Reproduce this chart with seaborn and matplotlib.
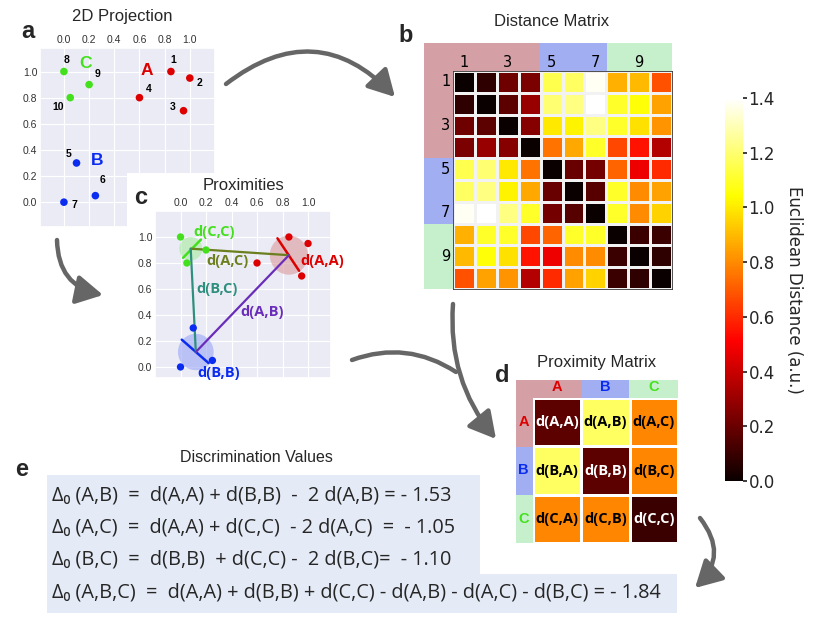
import numpy as np
import pandas as pd
import matplotlib
matplotlib.use("Agg")
import matplotlib.pyplot as plt
import seaborn as sns
from matplotlib.patches import Rectangle, FancyArrowPatch, Circle

# ---------------- data ----------------
point_ids = ["1", "2", "3", "4", "5", "6", "7", "8", "9", "10"]
point_x = [0.85, 1.00, 0.95, 0.60, 0.10, 0.25, 0.00, 0.00, 0.20, 0.05]
point_y = [1.00, 0.95, 0.70, 0.80, 0.30, 0.05, 0.00, 1.00, 0.90, 0.80]
point_cluster = ["A", "A", "A", "A", "B", "B", "B", "C", "C", "C"]

clusters = ["A", "B", "C"]
centroid_x = [0.85, 0.12, 0.08]
centroid_y = [0.86, 0.115, 0.91]
spread_radius = [0.15, 0.14, 0.09]
# diameter segments of each cluster (x0, y0, x1, y1)
spread_seg_x0 = [0.76, 0.01, 0.02]
spread_seg_y0 = [0.99, 0.21, 0.84]
spread_seg_x1 = [0.93, 0.22, 0.16]
spread_seg_y1 = [0.74, 0.03, 0.98]

dist_matrix = [
    [0.00, 0.08, 0.21, 0.24, 1.15, 1.18, 1.38, 0.88, 0.90, 0.68],
    [0.08, 0.00, 0.17, 0.30, 1.20, 1.22, 1.42, 1.10, 1.05, 0.85],
    [0.21, 0.17, 0.00, 0.26, 1.00, 1.02, 1.22, 1.10, 0.98, 0.82],
    [0.24, 0.30, 0.26, 0.00, 0.75, 0.86, 1.10, 0.66, 0.55, 0.35],
    [1.15, 1.20, 1.00, 0.75, 0.00, 0.20, 0.22, 0.72, 0.48, 0.60],
    [1.18, 1.22, 1.02, 0.86, 0.20, 0.00, 0.16, 1.10, 0.80, 0.85],
    [1.38, 1.42, 1.22, 1.10, 0.22, 0.16, 0.00, 1.10, 0.80, 0.95],
    [0.88, 1.10, 1.10, 0.66, 0.72, 1.10, 1.10, 0.00, 0.10, 0.10],
    [0.90, 1.05, 0.98, 0.55, 0.48, 0.80, 0.80, 0.10, 0.00, 0.08],
    [0.68, 0.85, 0.82, 0.35, 0.60, 0.85, 0.95, 0.10, 0.08, 0.00],
]
dist_tick_labels = ["1", "3", "5", "7", "9"]

prox_matrix = [
    [0.17, 1.18, 0.79],
    [1.18, 0.17, 0.79],
    [0.79, 0.79, 0.10],
]
prox_labels = [["d(A,A)", "d(A,B)", "d(A,C)"],
               ["d(B,A)", "d(B,B)", "d(B,C)"],
               ["d(C,A)", "d(C,B)", "d(C,C)"]]

cbar_ticks = [0.0, 0.2, 0.4, 0.6, 0.8, 1.0, 1.2, 1.4]

equations = [
    "Δ₀ (A,B)  =  d(A,A) + d(B,B)  -  2 d(A,B) = - 1.53",
    "Δ₀ (A,C)  =  d(A,A) + d(C,C)  - 2 d(A,C)  =  - 1.05",
    "Δ₀ (B,C)  =  d(B,B)  + d(C,C) -  2 d(B,C)=  - 1.10",
    "Δ₀ (A,B,C)  =  d(A,A) + d(B,B) + d(C,C) - d(A,B) - d(A,C) - d(B,C) = - 1.84",
]

# ---------------- style ----------------
sns.set_theme(style="darkgrid", rc={"axes.facecolor": "#EBEBF6",
                                     "grid.color": "white", "grid.linewidth": 0.8})
plt.rcParams["font.family"] = ["Liberation Sans", "DejaVu Sans"]

W, H = 830, 628
fig = plt.figure(figsize=(W / 100, H / 100), dpi=100)
fig.patch.set_facecolor("white")


def rect(x0, y0, x1, y1):
    return [x0 / W, 1 - y1 / H, (x1 - x0) / W, (y1 - y0) / H]


def ftext(x, y, s, **kw):
    fig.text(x / W, 1 - y / H, s, **kw)


def fbox(x0, y0, x1, y1, color):
    fig.add_artist(Rectangle((x0 / W, 1 - y1 / H), (x1 - x0) / W, (y1 - y0) / H,
                             transform=fig.transFigure, facecolor=color,
                             edgecolor="none", zorder=-1))


cluster_colors = {"A": "#DD0000", "B": "#0A2BF0", "C": "#44E01E"}
df = pd.DataFrame({"x": point_x, "y": point_y, "cluster": point_cluster, "id": point_ids})

label_off = {"1": (0.02, 0.09), "2": (0.08, -0.04), "3": (-0.09, 0.03), "4": (0.07, 0.07),
             "5": (-0.06, 0.07), "6": (0.06, 0.12), "7": (0.08, -0.02), "8": (0.02, 0.09),
             "9": (0.07, 0.08), "10": (-0.1, -0.07)}
cl_label_pos = {"A": (0.66, 1.01), "B": (0.26, 0.32), "C": (0.17, 1.06)}


def style_proj(ax, xlim, ylim):
    ax.set_xlim(*xlim)
    ax.set_ylim(*ylim)
    ax.set_xticks([0, 0.2, 0.4, 0.6, 0.8, 1.0])
    ax.set_yticks([0, 0.2, 0.4, 0.6, 0.8, 1.0])
    ax.xaxis.tick_top()
    ax.tick_params(labelsize=7.5, colors="#333333", pad=2, length=0)
    ax.set_xlabel("")
    ax.set_ylabel("")


# ---------------- panel a ----------------
axa = fig.add_axes(rect(40, 48, 215, 227))
sns.scatterplot(data=df, x="x", y="y", hue="cluster", palette=cluster_colors,
                legend=False, s=30, linewidth=0, ax=axa)
style_proj(axa, (-0.19, 1.2), (-0.19, 1.18))
for pid, px_, py_ in zip(point_ids, point_x, point_y):
    dx, dy = label_off[pid]
    axa.text(px_ + dx, py_ + dy, pid, fontsize=7.5, fontweight="bold",
             ha="center", va="center", color="black")
for c in clusters:
    axa.text(*cl_label_pos[c], c, fontsize=12.5, fontweight="bold", color=cluster_colors[c],
             ha="center", va="center")
ftext(122, 17, "2D Projection", fontsize=12, ha="center", va="center")
ftext(28, 32, "a", fontsize=17, fontweight="bold", ha="center", va="center")

# ---------------- panel c ----------------
bgc = fig.add_axes(rect(127, 173, 345, 385))
bgc.set_facecolor("white")
bgc.grid(False)
bgc.set_xticks([])
bgc.set_yticks([])
for s in bgc.spines.values():
    s.set_visible(False)

axc = fig.add_axes(rect(155, 211, 331, 378))
sns.scatterplot(data=df, x="x", y="y", hue="cluster", palette=cluster_colors,
                legend=False, s=28, linewidth=0, ax=axc, zorder=4)
style_proj(axc, (-0.2, 1.18), (-0.085, 1.2))
circle_colors = {"A": "#D99A9A", "B": "#9AA6F5", "C": "#A8EBA0"}
for i, c in enumerate(clusters):
    axc.add_patch(Circle((centroid_x[i], centroid_y[i]), spread_radius[i],
                         facecolor=circle_colors[c], alpha=0.6, edgecolor="none", zorder=2))
    axc.plot([spread_seg_x0[i], spread_seg_x1[i]], [spread_seg_y0[i], spread_seg_y1[i]],
             color=cluster_colors[c], lw=1.8, zorder=3)
pair_colors = {("A", "C"): "#6B7F1E", ("B", "C"): "#2F8F7E", ("A", "B"): "#6A2DBA"}
for (p, q), col in pair_colors.items():
    i, j = clusters.index(p), clusters.index(q)
    axc.plot([centroid_x[i], centroid_x[j]], [centroid_y[i], centroid_y[j]],
             color=col, lw=1.6, zorder=3)
dlab = [("d(C,C)", 0.26, 1.035, cluster_colors["C"]),
        ("d(A,C)", 0.37, 0.815, pair_colors[("A", "C")]),
        ("d(A,A)", 1.11, 0.815, cluster_colors["A"]),
        ("d(B,C)", 0.29, 0.60, pair_colors[("B", "C")]),
        ("d(A,B)", 0.64, 0.42, pair_colors[("A", "B")]),
        ("d(B,B)", 0.30, -0.05, cluster_colors["B"])]
for s, x, y, col in dlab:
    axc.text(x, y, s, color=col, fontsize=10.5, fontweight="bold", ha="center", va="center",
             family=["Open Sans", "DejaVu Sans"], zorder=5, clip_on=False)
ftext(243, 185, "Proximities", fontsize=12, ha="center", va="center")
ftext(141, 198, "c", fontsize=17, fontweight="bold", ha="center", va="center")

# ---------------- panel b ----------------
pink, blue, green = "#D4A0A5", "#A2AEF2", "#C6EFCB"
fbox(424, 43, 540, 71, pink)
fbox(424, 71, 453, 158, pink)
fbox(540, 43, 607, 71, blue)
fbox(424, 158, 453, 224, blue)
fbox(607, 43, 672, 71, green)
fbox(424, 224, 453, 289, green)

axb = fig.add_axes(rect(453, 71, 672, 289))
cax = fig.add_axes(rect(725, 98, 743, 481))
sns.heatmap(np.array(dist_matrix), cmap="hot", vmin=0, vmax=1.4, ax=axb, cbar_ax=cax,
            linewidths=1, linecolor="#F2F2F2")
axb.set_xticks([0.5, 2.5, 4.5, 6.5, 8.5])
axb.set_xticklabels(dist_tick_labels, family="DejaVu Sans")
axb.set_yticks([0.5, 2.5, 4.5, 6.5, 8.5])
axb.set_yticklabels(dist_tick_labels, rotation=0, family="DejaVu Sans")
axb.xaxis.tick_top()
axb.tick_params(axis="y", labelsize=10.5, length=2, pad=0, colors="black")
axb.tick_params(axis="x", labelsize=10.5, length=0, pad=0.5, colors="black")
for s in axb.spines.values():
    s.set_visible(True)
    s.set_color("#333333")
    s.set_linewidth(0.6)
ftext(552, 22, "Distance Matrix", fontsize=12, ha="center", va="center")
ftext(406, 36, "b", fontsize=17, fontweight="bold", ha="center", va="center")

cax.set_yticks(cbar_ticks)
cax.set_yticklabels([f"{t:.1f}" for t in cbar_ticks], family="DejaVu Sans")
cax.tick_params(labelsize=12, length=3, pad=1)
cax.set_ylabel("Euclidean Distance (a.u.)", rotation=270, fontsize=12, labelpad=20,
               family="DejaVu Sans")

# ---------------- panel d ----------------
fbox(516, 380, 582, 398, pink)
fbox(516, 398, 533, 447, pink)
fbox(582, 380, 629, 398, blue)
fbox(516, 447, 533, 495, blue)
fbox(629, 380, 678, 398, green)
fbox(516, 495, 533, 543, green)
axd = fig.add_axes(rect(533, 398, 678, 543))
sns.heatmap(np.array(prox_matrix), cmap="hot", vmin=0, vmax=1.4, ax=axd, cbar=False,
            annot=np.array(prox_labels), fmt="", linewidths=2, linecolor="white",
            annot_kws=dict(fontsize=10.5, fontweight="bold", family=["Open Sans", "DejaVu Sans"]))
flat_vals = np.array(prox_matrix).ravel()
for t, v in zip(axd.texts, flat_vals):
    t.set_color("white" if v < 0.5 else "black")
axd.set_xticks([0.5, 1.5, 2.5])
axd.set_xticklabels(clusters)
axd.set_yticks([0.5, 1.5, 2.5])
axd.set_yticklabels(clusters, rotation=0)
axd.xaxis.tick_top()
axd.tick_params(labelsize=10.5, length=0, pad=3)
for lab, c in zip(axd.get_xticklabels(), clusters):
    lab.set_color(cluster_colors[c]); lab.set_fontweight("bold")
for lab, c in zip(axd.get_yticklabels(), clusters):
    lab.set_color(cluster_colors[c]); lab.set_fontweight("bold")
ftext(597, 362, "Proximity Matrix", fontsize=12, ha="center", va="center")
ftext(502, 376, "d", fontsize=17, fontweight="bold", ha="center", va="center")

# ---------------- panel e ----------------
fbox(47, 475, 480, 574, "#E4EAF6")
fbox(47, 574, 677, 613, "#E4EAF6")
ftext(256, 458, "Discrimination Values", fontsize=11.5, ha="center", va="center")
ftext(22, 470, "e", fontsize=17, fontweight="bold", ha="center", va="center")
for k, eq in enumerate(equations):
    ftext(52, 495 + 32.5 * k, eq, fontsize=14.3, ha="left", va="center",
          family=["Open Sans", "DejaVu Sans"])


# ---------------- arrows ----------------
def arrow(p0, p1, rad, head=True):
    style = "-|>,head_length=1.0,head_width=0.55" if head else "-"
    a = FancyArrowPatch(posA=(p0[0] / W, 1 - p0[1] / H), posB=(p1[0] / W, 1 - p1[1] / H),
                        transform=fig.transFigure, connectionstyle=f"arc3,rad={rad}",
                        arrowstyle=style, mutation_scale=16, lw=3.2, color="#666666",
                        shrinkA=0, shrinkB=0, zorder=10)
    fig.add_artist(a)


arrow((226, 84), (395, 97), -0.45)
arrow((57, 240), (103, 295), 0.4)
arrow((352, 360), (456, 372), -0.25, head=False)
arrow((453, 304), (496, 439), 0.2)
arrow((700, 518), (695, 588), -0.45)

fig.savefig("out.png", dpi=100)
